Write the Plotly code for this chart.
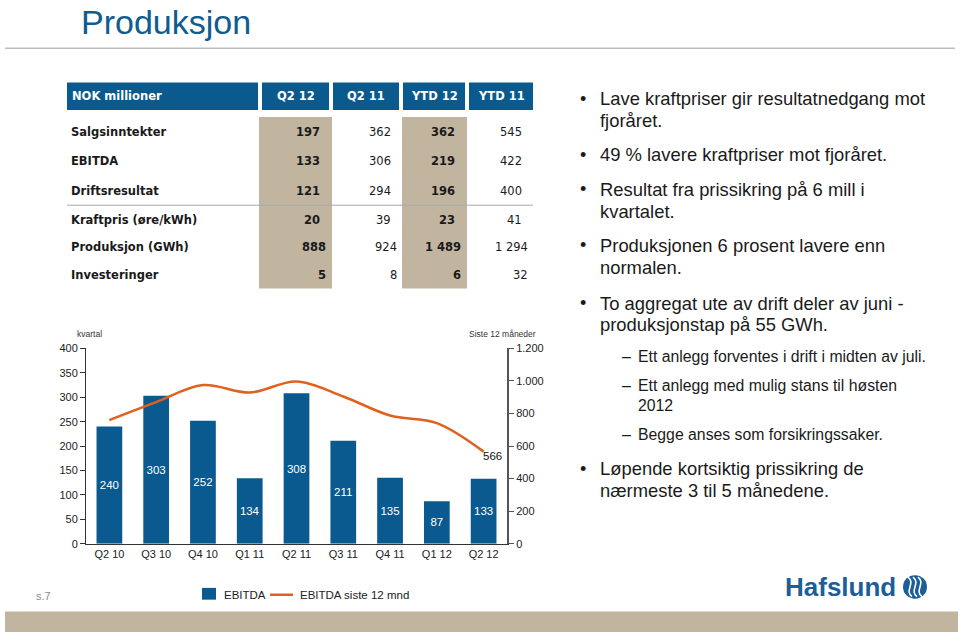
import plotly.graph_objects as go

# ---------------- data ----------------
quarters = ["Q2 10", "Q3 10", "Q4 10", "Q1 11", "Q2 11", "Q3 11", "Q4 11", "Q1 12", "Q2 12"]
ebitda_q = [240, 303, 252, 134, 308, 211, 135, 87, 133]
ebitda_12m = [760, 870, 975, 929, 997, 905, 788, 741, 566]

left_ticks = [0, 50, 100, 150, 200, 250, 300, 350, 400]
right_tickvals = [0, 200, 400, 600, 800, 1000, 1200]
right_ticktext = ["0", "200", "400", "600", "800", "1.000", "1.200"]

series_names = ["EBITDA", "EBITDA siste 12 mnd"]

table_header = ["NOK millioner", "Q2 12", "Q2 11", "YTD 12", "YTD 11"]
table_rows = ["Salgsinntekter", "EBITDA", "Driftsresultat", "Kraftpris (øre/kWh)",
              "Produksjon (GWh)", "Investeringer"]
col_q2_12 = ["197", "133", "121", "20", "888", "5"]
col_q2_11 = ["362", "306", "294", "39", "924", "8"]
col_ytd_12 = ["362", "219", "196", "23", "1 489", "6"]
col_ytd_11 = ["545", "422", "400", "41", "1 294", "32"]

bullets = [
    (0, ["Lave kraftpriser gir resultatnedgang mot", "fjoråret."]),
    (0, ["49 % lavere kraftpriser mot fjoråret."]),
    (0, ["Resultat fra prissikring på 6 mill i", "kvartalet."]),
    (0, ["Produksjonen 6 prosent lavere enn", "normalen."]),
    (0, ["To aggregat ute av drift deler av juni -", "produksjonstap på 55 GWh."]),
    (1, ["Ett anlegg forventes i drift i midten av juli."]),
    (1, ["Ett anlegg med mulig stans til høsten", "2012"]),
    (1, ["Begge anses som forsikringssaker."]),
    (0, ["Løpende kortsiktig prissikring de", "nærmeste 3 til 5 månedene."]),
]

# ---------------- style ----------------
W, H = 960, 640
BLUE = "#0A5A8F"
ORANGE = "#E0601E"
TAN = "#C1B5A0"
TXT = "#1a1a1a"
SANS = "Liberation Sans, Arial, sans-serif"
VERD = "DejaVu Sans, Verdana, sans-serif"


def X(px):
    return px / W


def Y(py):
    return 1 - py / H


fig = go.Figure()

fig.add_trace(go.Bar(
    x=quarters, y=ebitda_q, name=series_names[0],
    marker=dict(color=BLUE, line=dict(width=0)),
    text=[str(v) for v in ebitda_q], textposition="inside",
    insidetextanchor="middle", textangle=0,
    textfont=dict(color="white", size=11.5, family=SANS),
    yaxis="y",
))
fig.add_trace(go.Scatter(
    x=quarters, y=ebitda_12m, name=series_names[1], mode="lines",
    line=dict(color=ORANGE, width=2.5, shape="spline", smoothing=1.0),
    yaxis="y2",
))

shapes = []
ann = []


def text(t, x, y, size, family=SANS, color=TXT, xanchor="left", yanchor="middle"):
    ann.append(dict(text=t, x=X(x), y=Y(y), xref="paper", yref="paper", xanchor=xanchor,
                    yanchor=yanchor, font=dict(family=family, size=size, color=color),
                    showarrow=False))


def rect(x0, y0, x1, y1, color, layer="below"):
    shapes.append(dict(type="rect", xref="paper", yref="paper", x0=X(x0), x1=X(x1), y0=Y(y1), y1=Y(y0),
                       fillcolor=color, line=dict(width=0), layer=layer))


def hline(x0, x1, y, color, width):
    shapes.append(dict(type="line", xref="paper", yref="paper", x0=X(x0), x1=X(x1), y0=Y(y), y1=Y(y),
                       line=dict(color=color, width=width)))


# plot area
px0, px1, py_top, py_bot = 86, 507, 349, 548

# title
text("Produksjon", 79, 16, 34, color="#0E5C90")
hline(5, 955, 43, "#BDBDBD", 1.5)

# table header
hdr_x = [(67, 258), (262, 329), (333, 399), (403, 465), (469, 533)]
for i, (a, b) in enumerate(hdr_x):
    rect(a, 78, b, 106, "#0B5A8E")
    if i == 0:
        text("<b>%s</b>" % table_header[i], 70, 92, 11.5, family=VERD, color="white")
    else:
        text("<b>%s</b>" % table_header[i], (a + b) / 2, 92, 11.5, family=VERD, color="white",
             xanchor="center")

# tan columns
for a, b in [(259, 332), (402, 467)]:
    rect(a, 113, b, 288, TAN)
hline(67, 533, 203, "#A8A8A8", 1)

row_y = [128, 158, 189, 218, 246, 274]
row_shift = [0, 0, 0, 0, 6, 6]
col_right = [322, 393, 457, 524]
cols = [col_q2_12, col_q2_11, col_ytd_12, col_ytd_11]
bold_cols = [True, False, True, False]
for r, label in enumerate(table_rows):
    text("<b>%s</b>" % label, 69, row_y[r], 11.5, family=VERD)
    for c, col in enumerate(cols):
        t = col[r]
        if bold_cols[c]:
            t = "<b>%s</b>" % t
        text(t, col_right[c] + row_shift[r], row_y[r], 11.5, family=VERD, xanchor="right")

# bullets
line_y = [94.5, 117, 151.5, 187, 209, 244, 267, 303, 325, 357, 387, 407, 437, 471.5, 493.5]
k = 0
for level, lines in bullets:
    if level == 0:
        text("•", 578, line_y[k], 18)
        size, x0 = 18.4, 598
    else:
        text("–", 620, line_y[k], 16)
        size, x0 = 15.8, 636
    for ln in lines:
        text(ln, x0, line_y[k], size)
        k += 1

# chart small labels
text("kvartal", 75, 334, 8.5, color="#333")
text("Siste 12 måneder", 538, 334, 8.5, color="#333", xanchor="right")
ann.append(dict(text=str(ebitda_12m[-1]), x=quarters[-1], y=ebitda_12m[-1], xref="x", yref="y2",
                xanchor="left", yanchor="top", xshift=-3, yshift=4,
                font=dict(family=SANS, size=11.5, color="#111"), showarrow=False))

# legend (manual)
rect(202, 593, 216, 605, BLUE, layer="above")
text(series_names[0], 222, 600, 11.5, color="#222")
hline(270, 293, 600, ORANGE, 2.5)
text(series_names[1], 298, 600, 11.5, color="#222")

# footer
text("s.7", 34, 601, 11, color="#888")
rect(5, 617, 958, 638, TAN, layer="above")
# logo
text("<b>Hafslund</b>", 783, 592, 26, color="#1B5E98")
cx, cy, rr = 915, 592, 12
shapes.append(dict(type="circle", xref="paper", yref="paper", x0=X(cx - rr), x1=X(cx + rr),
                   y0=Y(cy + rr), y1=Y(cy - rr), fillcolor="#1B5E98", line=dict(width=0)))
for dx in (-5, 0, 5):
    path = "M %f %f C %f %f, %f %f, %f %f" % (
        X(cx + dx - 2), Y(cy - 10), X(cx + dx + 6), Y(cy - 4), X(cx + dx - 6), Y(cy + 4),
        X(cx + dx + 2), Y(cy + 10))
    shapes.append(dict(type="path", xref="paper", yref="paper", path=path,
                       line=dict(color="white", width=1.6)))

axis_font = dict(family=SANS, size=11, color="#222")
fig.update_layout(
    width=W, height=H, margin=dict(l=0, r=0, t=0, b=0),
    paper_bgcolor="white", plot_bgcolor="white",
    bargap=0.45,
    xaxis=dict(domain=[X(px0), X(px1)], showline=True, linecolor="#333", linewidth=1,
               ticks="", tickfont=axis_font, showgrid=False, zeroline=False, anchor="y"),
    yaxis=dict(domain=[Y(py_bot), Y(py_top)], range=[0, 400], tickvals=left_ticks,
               showline=True, linecolor="#333", linewidth=1, ticks="outside", ticklen=5,
               tickcolor="#333", tickfont=axis_font, showgrid=False, zeroline=False, anchor="x"),
    yaxis2=dict(domain=[Y(py_bot), Y(py_top)], range=[0, 1200], tickvals=right_tickvals,
                ticktext=right_ticktext, overlaying="y", side="right", anchor="x",
                showline=True, linecolor="#555", linewidth=2, ticks="outside", ticklen=5,
                tickcolor="#555", tickfont=axis_font, showgrid=False, zeroline=False),
    showlegend=False,
    shapes=shapes, annotations=ann,
)

fig.write_html("out.html")
